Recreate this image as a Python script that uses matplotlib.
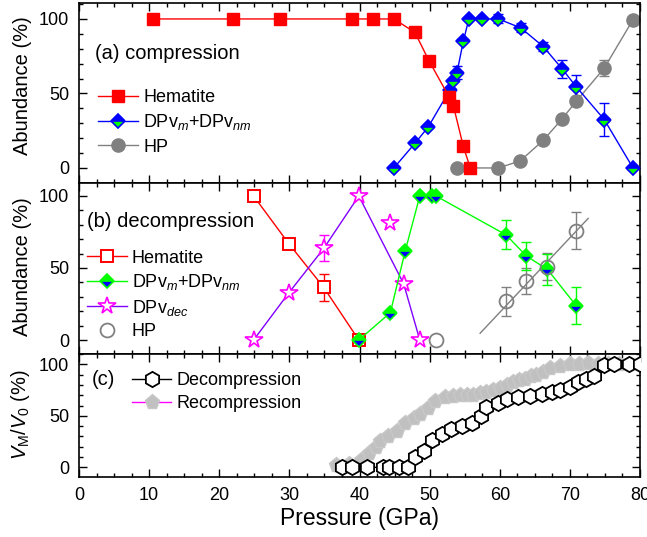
import numpy as np
import matplotlib
matplotlib.use("Agg")
import matplotlib.pyplot as plt
from matplotlib.ticker import MultipleLocator

plt.rcParams['font.family'] = ['Liberation Sans', 'DejaVu Sans']
plt.rcParams['mathtext.fontset'] = 'custom'
plt.rcParams['mathtext.rm'] = 'Liberation Sans'
plt.rcParams['mathtext.it'] = 'Liberation Sans:italic'
plt.rcParams['mathtext.bf'] = 'Liberation Sans:bold'

# (a) compression
hem_a_p = [10.5, 22.0, 28.7, 38.9, 41.9, 44.9, 47.9, 49.9, 52.8, 53.4, 54.8, 55.8]
hem_a_v = [100, 100, 100, 100, 100, 100, 91, 72, 47.5, 41.5, 14.5, 0]
dpv_a_p = [44.9, 47.9, 49.8, 52.9, 53.4, 53.9, 54.8, 55.6, 57.4, 59.8, 63.0, 66.2, 68.9, 70.9, 74.9, 79.0]
dpv_a_v = [0, 16.5, 27.5, 52.5, 58.5, 64, 85, 100, 100, 100, 94, 81.5, 66.5, 54.5, 32.5, 0]
dpv_a_e = [0, 0, 0, 0, 0, 4.5, 0, 0, 0, 3, 3, 3, 5.8, 7.6, 11, 0]
hp_a_p = [53.9, 59.8, 62.9, 66.2, 68.9, 70.9, 74.9, 79.0]
hp_a_v = [0, 0, 4.7, 18.5, 33, 44.7, 67, 99.5]
hp_a_e = [0, 0, 0, 0, 0, 0, 5.6, 0]

# (b) decompression
hem_b_p = [24.9, 29.9, 34.9, 39.9]
hem_b_v = [100, 67, 36.5, 0]
hem_b_e = [0, 0, 9.5, 0]
dec_b_p = [24.9, 29.9, 34.9, 39.9, 44.4, 46.3, 48.6]
dec_b_v = [0, 32.6, 63.6, 100, 81, 39, 0]
dec_b_e = [0, 0, 9, 0, 0, 0, 0]
dec_line_idx = [0, 1, 2, 3, 5, 6]  # the 44.4 GPa point is off the guide line
dpv_b_p = [39.9, 44.4, 46.5, 48.6, 50.4, 50.9, 60.9, 63.8, 66.8, 70.9]
dpv_b_v = [0, 19, 61.5, 100, 100, 100, 73, 58.3, 49, 23.8]
dpv_b_e = [0, 0, 0, 0, 0, 0, 10, 9.4, 10.6, 13]
hp_b_p = [50.9, 60.9, 63.8, 66.8, 70.9]
hp_b_v = [0, 27, 41, 51, 76]
hp_b_e = [0, 10, 9.3, 9.3, 13]
hp_fit_p = [57.2, 72.6]
hp_fit_v = [4.7, 84.4]

# (c) V_M/V_0
dec_c_p = [37.5, 39.0, 41.1, 43.4, 44.2, 45.6, 46.9, 47.9, 49.2, 50.4, 51.7, 53.0, 54.6,
           56.0, 57.3, 58.1, 59.7, 61.1, 62.6, 64.3, 66.0, 67.4, 68.6, 70.0, 71.1, 72.3,
           73.5, 74.8, 76.3, 78.4, 80.0]
dec_c_v = [0, 0, 0, 0, 0, 0, 0, 10, 15.5, 26.5, 32.5, 37, 40, 43, 50, 58.5, 62.5, 66, 68,
           69.3, 71, 73.5, 75.5, 78, 82.5, 85.7, 88.5, 99.3, 100, 100, 100]
rec_c_p = [36.7, 38.5, 40.2, 41.3, 42.4, 42.9, 44.1, 45.3, 46.5, 47.7, 48.6, 49.8, 50.8,
           52.2, 53.3, 54.3, 55.3, 56.2, 57.2, 58.1, 59.0, 60.0, 61.0, 61.9, 62.8, 63.6,
           64.4, 65.2, 66.2, 67.2, 68.6, 70.0, 71.3, 72.6, 74.0, 75.5, 77.0, 78.5, 80.0]
rec_c_v = [2, 3, 7, 14, 20, 26, 30, 35, 43, 48, 52, 58, 64, 68, 69, 70, 70, 70, 72, 73, 75,
           77, 80, 83, 85, 86, 89, 90, 93, 96, 98, 100, 100, 101, 100, 100, 100, 100, 100]

RED, BLUE, GREEN = '#ff0000', '#0000ff', '#00ff00'
GRAY, MAG, PURP = '#808080', '#ff00ff', '#8000ff'


def errs(ax, p, v, e, color):
    p, v, e = np.array(p), np.array(v), np.array(e)
    m = e > 0
    ax.errorbar(p[m], v[m], yerr=e[m], fmt='none', ecolor=color, elinewidth=1,
                capsize=3.5, capthick=1, zorder=1)


def style(ax, ylim):
    ax.set_xlim(0, 80)
    ax.set_ylim(*ylim)
    ax.xaxis.set_major_locator(MultipleLocator(10))
    ax.xaxis.set_minor_locator(MultipleLocator(2.5))
    ax.yaxis.set_major_locator(MultipleLocator(50))
    ax.yaxis.set_minor_locator(MultipleLocator(10))
    ax.tick_params(which='both', direction='in', top=True, right=True, labelsize=13, pad=7)
    ax.tick_params(which='major', length=6, width=1)
    ax.tick_params(which='minor', length=3, width=1)
    for s in ax.spines.values():
        s.set_linewidth(1.2)


fig = plt.figure(figsize=(6.47, 5.37), dpi=100)
L, W = 0.1221, 0.8671
ax_a = fig.add_axes([L, 0.6592, W, 0.3352])
ax_b = fig.add_axes([L, 0.3408, W, 0.3184])
ax_c = fig.add_axes([L, 0.1117, W, 0.2291])

leg_kw = dict(frameon=False, fontsize=13, handlelength=2.2, handletextpad=0.3,
              borderpad=0, borderaxespad=0, loc='upper left')

# ---- (a)
ax = ax_a
errs(ax, hp_a_p, hp_a_v, hp_a_e, GRAY)
errs(ax, dpv_a_p, dpv_a_v, dpv_a_e, BLUE)
ax.plot(hp_a_p, hp_a_v, '-o', color=GRAY, lw=1, ms=9.5, mec=GRAY, mfc=GRAY, label='HP', zorder=2)
ax.plot(dpv_a_p, dpv_a_v, '-D', color=BLUE, lw=1, ms=7.5, mec=BLUE, mfc=BLUE,
        fillstyle='top', markerfacecoloralt=GREEN, mew=1.2,
        label='DPv$_{m}$+DPv$_{nm}$', zorder=3)
ax.plot(hem_a_p, hem_a_v, '-s', color=RED, lw=1, ms=8.5, mec=RED, mfc=RED,
        label='Hematite', zorder=4)
style(ax, (-10.1, 110.7))
ax.tick_params(labelbottom=False)
ax.text(0.029, 0.717, '(a) compression', transform=ax.transAxes, fontsize=14.5, va='center')
h, lab = ax.get_legend_handles_labels()
ax.legend(h[::-1], lab[::-1], bbox_to_anchor=(0.034, 0.523), labelspacing=0.35, **leg_kw)
ax.set_ylabel('Abundance (%)', fontsize=14.5)
ax.yaxis.set_label_coords(-0.083, 0.54)

# ---- (b)
ax = ax_b
errs(ax, hp_b_p, hp_b_v, hp_b_e, GRAY)
errs(ax, dpv_b_p, dpv_b_v, dpv_b_e, GREEN)
errs(ax, dec_b_p, dec_b_v, dec_b_e, MAG)
errs(ax, hem_b_p, hem_b_v, hem_b_e, RED)
ax.plot(hp_fit_p, hp_fit_v, '-', color=GRAY, lw=1, zorder=2)
hem_h, = ax.plot(hem_b_p, hem_b_v, '-s', color=RED, lw=1, ms=8.5, mec=RED, mfc='white',
                 mew=1.4, label='Hematite', zorder=3)
ax.plot(np.array(dec_b_p)[dec_line_idx], np.array(dec_b_v)[dec_line_idx], '-', color=PURP,
        lw=1, zorder=3)
dec_h, = ax.plot(dec_b_p, dec_b_v, '*', ms=13, mec=MAG, mfc='white', mew=1.2, zorder=4)
dpv_h, = ax.plot(dpv_b_p, dpv_b_v, '-D', color=GREEN, lw=1, ms=7.5, mec=GREEN, mfc=GREEN,
                 fillstyle='top', markerfacecoloralt=BLUE, mew=1.2, zorder=5)
hp_h, = ax.plot(hp_b_p, hp_b_v, 'o', ms=10, mec=GRAY, mfc='none', mew=1.3, zorder=6)
dec_leg, = ax.plot([], [], '-*', color=PURP, lw=1, ms=13, mec=MAG, mfc='white', mew=1.2)
style(ax, (-9.7, 109))
ax.tick_params(labelbottom=False)
ax.text(0.014, 0.772, '(b) decompression', transform=ax.transAxes, fontsize=14.5, va='center')
ax.legend([hem_h, dpv_h, dec_leg, hp_h],
          ['Hematite', 'DPv$_{m}$+DPv$_{nm}$', 'DPv$_{dec}$', 'HP'],
          bbox_to_anchor=(0.014, 0.61), labelspacing=0.3, **leg_kw)
ax.set_ylabel('Abundance (%)', fontsize=14.5)
ax.yaxis.set_label_coords(-0.083, 0.51)

# ---- (c)
ax = ax_c
ax.plot(rec_c_p, rec_c_v, '-p', color=MAG, lw=1, ms=11, mec='#c8c8c8', mfc='#c0c0c0',
        label='Recompression', zorder=2)
ax.plot(dec_c_p, dec_c_v, '-h', color='black', lw=1, ms=11, mec='black', mfc='white',
        mew=1.3, label='Decompression', zorder=3)
style(ax, (-9.4, 110))
ax.text(0.023, 0.789, '(c)', transform=ax.transAxes, fontsize=14.5, va='center')
h, lab = ax.get_legend_handles_labels()
ax.legend(h[::-1], lab[::-1], bbox_to_anchor=(0.094, 0.85), labelspacing=0.3, **leg_kw)
ax.set_ylabel(r'$V_{\mathrm{M}}/V_{0}$ (%)', fontsize=14.5)
ax.yaxis.set_label_coords(-0.083, 0.51)
ax.set_xlabel('Pressure (GPa)', fontsize=16.5, labelpad=2)

fig.savefig('out.png', dpi=100)
